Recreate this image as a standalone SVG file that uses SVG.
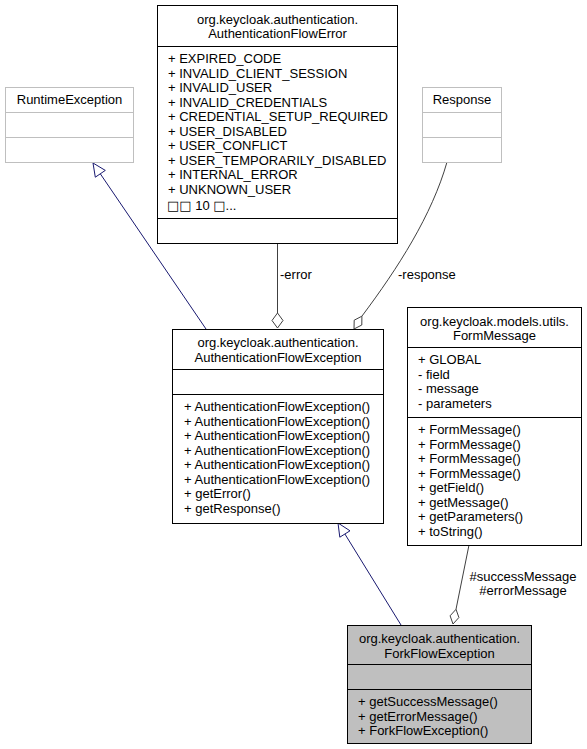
<svg xmlns="http://www.w3.org/2000/svg" width="587" height="749" viewBox="0 0 587 749">
<style>
text { font-family: "Liberation Sans", Arial, sans-serif; font-size: 13px; fill: #000; }
.c { text-anchor: middle; }
.sq { font-family: "DejaVu Sans", sans-serif; font-size: 13px; }
.box { fill: #fff; stroke: #000; stroke-width: 1; }
.ext { fill: #fff; stroke: #bfbfbf; stroke-width: 1; }
.cur { fill: #bfbfbf; stroke: #000; stroke-width: 1; }
.sep { stroke: #000; stroke-width: 1; }
.sepx { stroke: #bfbfbf; stroke-width: 1; }
.inh { stroke: #191970; fill: none; stroke-width: 1; }
.inhh { stroke: #191970; fill: #fff; stroke-width: 1; }
.agg { stroke: #404040; fill: none; stroke-width: 1; }
.aggh { stroke: #404040; fill: #fff; stroke-width: 1; }
</style>
<rect width="587" height="749" fill="#fff"/>

<g id="connectors">
  <line class="inh" x1="206" y1="329" x2="100.3" y2="173.8"/>
  <polygon class="inhh" points="93,163 105.3,170.4 95.3,177.2"/>
  <line class="agg" x1="277.5" y1="243" x2="277.5" y2="313"/>
  <polygon class="aggh" points="277.5,313 283,320.5 277.5,328 272,320.5"/>
  <text x="280" y="278.5">-error</text>
  <path class="agg" d="M447,162 C432,215 398,268 361.9,316.2"/>
  <polygon class="aggh" points="354,329 361.8,325 361.9,316.2 354.2,320.2"/>
  <text x="398" y="278.5">-response</text>
  <line class="inh" x1="401" y1="625" x2="344.9" y2="534"/>
  <polygon class="inhh" points="338,523 350,530.8 339.8,537.2"/>
  <line class="agg" x1="469" y1="545" x2="456" y2="609.3"/>
  <polygon class="aggh" points="453,624 458.9,617.5 456,609.3 450.1,615.8"/>
  <text class="c" x="523" y="580.5">#successMessage</text>
  <text class="c" x="523" y="594.5">#errorMessage</text>
</g>

<g id="RuntimeException">
  <rect class="ext" x="5.5" y="87.5" width="128" height="75"/>
  <line class="sepx" x1="5.5" y1="112.5" x2="133.5" y2="112.5"/>
  <line class="sepx" x1="5.5" y1="137.5" x2="133.5" y2="137.5"/>
  <text class="c" x="69.5" y="104">RuntimeException</text>
</g>

<g id="Response">
  <rect class="ext" x="422.5" y="87.5" width="79" height="75"/>
  <line class="sepx" x1="422.5" y1="112.5" x2="501.5" y2="112.5"/>
  <line class="sepx" x1="422.5" y1="137.5" x2="501.5" y2="137.5"/>
  <text class="c" x="462" y="104">Response</text>
</g>

<g id="AuthenticationFlowError">
  <rect class="box" x="157.5" y="5.5" width="240" height="238"/>
  <line class="sep" x1="157.5" y1="46.5" x2="397.5" y2="46.5"/>
  <line class="sep" x1="157.5" y1="218.5" x2="397.5" y2="218.5"/>
  <text class="c" x="277.5" y="23.5">org.keycloak.authentication.</text>
  <text class="c" x="277.5" y="38">AuthenticationFlowError</text>
  <text x="168" y="63">+ EXPIRED_CODE</text>
  <text x="168" y="77.5">+ INVALID_CLIENT_SESSION</text>
  <text x="168" y="92">+ INVALID_USER</text>
  <text x="168" y="106.5">+ INVALID_CREDENTIALS</text>
  <text x="168" y="121">+ CREDENTIAL_SETUP_REQUIRED</text>
  <text x="168" y="135.5">+ USER_DISABLED</text>
  <text x="168" y="150">+ USER_CONFLICT</text>
  <text x="168" y="164.5">+ USER_TEMPORARILY_DISABLED</text>
  <text x="168" y="179">+ INTERNAL_ERROR</text>
  <text x="168" y="193.5">+ UNKNOWN_USER</text>
  <text x="167" y="209.5"><tspan class="sq">□□</tspan> 10 <tspan class="sq">□</tspan>...</text>
</g>

<g id="AuthenticationFlowException">
  <rect class="box" x="172.5" y="329.5" width="211" height="194"/>
  <line class="sep" x1="172.5" y1="369.5" x2="383.5" y2="369.5"/>
  <line class="sep" x1="172.5" y1="394.5" x2="383.5" y2="394.5"/>
  <text class="c" x="278" y="347">org.keycloak.authentication.</text>
  <text class="c" x="278" y="361.5">AuthenticationFlowException</text>
  <text x="184" y="411">+ AuthenticationFlowException()</text>
  <text x="184" y="425.5">+ AuthenticationFlowException()</text>
  <text x="184" y="440">+ AuthenticationFlowException()</text>
  <text x="184" y="454.5">+ AuthenticationFlowException()</text>
  <text x="184" y="469">+ AuthenticationFlowException()</text>
  <text x="184" y="483.5">+ AuthenticationFlowException()</text>
  <text x="184" y="498">+ getError()</text>
  <text x="184" y="512.5">+ getResponse()</text>
</g>

<g id="FormMessage">
  <rect class="box" x="407.5" y="307.5" width="174" height="238"/>
  <line class="sep" x1="407.5" y1="347.5" x2="581.5" y2="347.5"/>
  <line class="sep" x1="407.5" y1="417.5" x2="581.5" y2="417.5"/>
  <text class="c" x="494.5" y="325.5">org.keycloak.models.utils.</text>
  <text class="c" x="494.5" y="340">FormMessage</text>
  <text x="418" y="364">+ GLOBAL</text>
  <text x="418" y="378.5">- field</text>
  <text x="418" y="393">- message</text>
  <text x="418" y="407.5">- parameters</text>
  <text x="418" y="434">+ FormMessage()</text>
  <text x="418" y="448.5">+ FormMessage()</text>
  <text x="418" y="463">+ FormMessage()</text>
  <text x="418" y="477.5">+ FormMessage()</text>
  <text x="418" y="492">+ getField()</text>
  <text x="418" y="506.5">+ getMessage()</text>
  <text x="418" y="521">+ getParameters()</text>
  <text x="418" y="535.5">+ toString()</text>
</g>

<g id="ForkFlowException">
  <rect class="cur" x="347.5" y="625.5" width="184" height="118"/>
  <line class="sep" x1="347.5" y1="664.5" x2="531.5" y2="664.5"/>
  <line class="sep" x1="347.5" y1="689.5" x2="531.5" y2="689.5"/>
  <text class="c" x="439.5" y="643">org.keycloak.authentication.</text>
  <text class="c" x="439.5" y="657.5">ForkFlowException</text>
  <text x="358" y="706">+ getSuccessMessage()</text>
  <text x="358" y="720.5">+ getErrorMessage()</text>
  <text x="358" y="735">+ ForkFlowException()</text>
</g>
</svg>
